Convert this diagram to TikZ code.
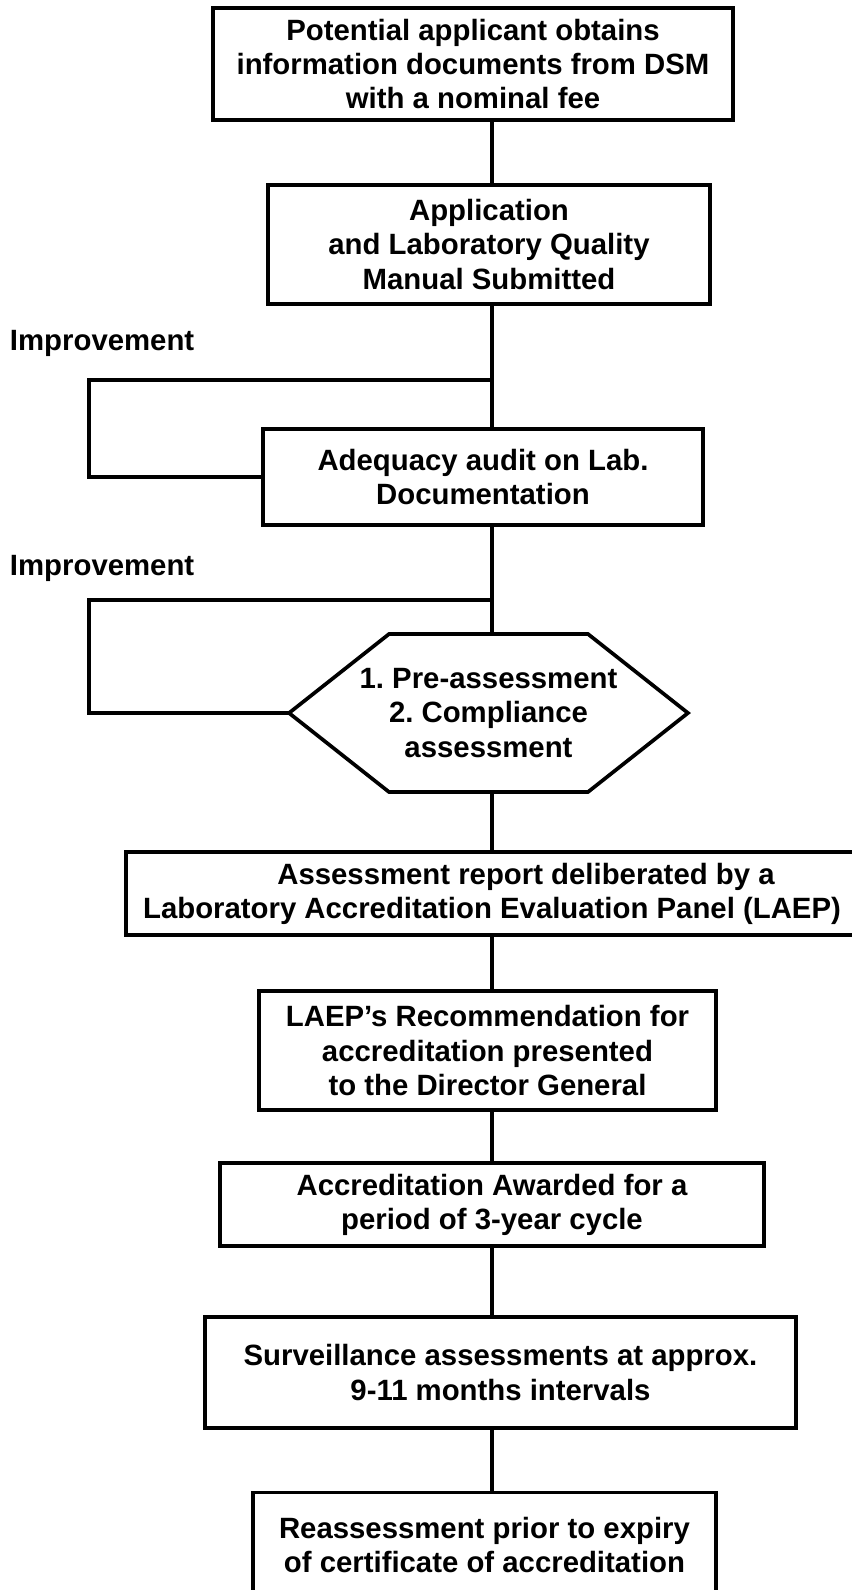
\documentclass[tikz,border=0pt]{standalone}
\usepackage{fontspec}
\setmainfont{Liberation Sans}
\frenchspacing

\begin{document}
\begin{tikzpicture}[x=0.02cm,y=-0.02cm,line width=2.1pt,
			every node/.style={font=\bfseries\fontsize{16.7}{19.4}\selectfont,align=center,inner sep=0,outer sep=0},
			stepbox/.style={draw,rectangle,line width=2.1pt}]
			\useasboundingbox (0,0) rectangle (852,1590);
			\coordinate (spine) at (492,0);
			% main chain of steps
			\node[stepbox,minimum width=10.4cm,minimum height=2.24cm] (info) at (473,64) {Potential applicant obtains\\information documents from DSM\\with a nominal fee};
			\node[stepbox,minimum width=8.84cm,minimum height=2.38cm] (appl) at (489,244.5) {Application\\and Laboratory Quality\\Manual Submitted};
			\node[stepbox,minimum width=8.8cm,minimum height=1.92cm] (audit) at (483,477) {Adequacy audit on Lab.\\Documentation};
			\node[minimum width=7.98cm,minimum height=3.16cm] (assess) at (488.5,713) {1. Pre-assessment\\2. Compliance\\assessment};
			\draw (assess.west) -- ([xshift=2cm]assess.north west) -- ([xshift=-2cm]assess.north east) -- (assess.east)
				-- ([xshift=-2cm]assess.south east) -- ([xshift=2cm]assess.south west) -- cycle;
			\node[stepbox,minimum width=14.64cm,minimum height=1.66cm] (report) at (492,893.5) {\hspace*{1.36cm}Assessment report deliberated by a\\Laboratory Accreditation Evaluation Panel (LAEP)};
			\node[stepbox,minimum width=9.14cm,minimum height=2.38cm] (recom) at (487.5,1050.5) {LAEP’s Recommendation for\\accreditation presented\\to the Director General};
			\node[stepbox,minimum width=10.88cm,minimum height=1.66cm] (award) at (492,1204.5) {Accreditation Awarded for a\\period of 3-year cycle};
			\node[stepbox,minimum width=11.82cm,minimum height=2.22cm] (surv) at (500.5,1372.5) {Surveillance assessments at approx.\\9-11 months intervals};
			\node[stepbox,minimum width=9.26cm,minimum height=2.1cm] (reass) at (484.5,1545) {Reassessment prior to expiry\\of certificate of accreditation};
			% feedback loops
			\node[anchor=west] (impa) at (10,343) {Improvement};
			\node[anchor=west] (impb) at (10,568) {Improvement};
			\coordinate (loopa) at (89,380);
			\coordinate (loopb) at (89,600);
			\draw (audit.west) -| (loopa) -- (loopa -| spine);
			\draw (assess.west) -| (loopb) -- (loopb -| spine);
			% connectors
			\draw (info.south -| spine) -- (appl.north -| spine);
			\draw (appl.south -| spine) -- (audit.north -| spine);
			\draw (audit.south -| spine) -- (assess.north -| spine);
			\draw (assess.south -| spine) -- (report.north -| spine);
			\draw (report.south -| spine) -- (recom.north -| spine);
			\draw (recom.south -| spine) -- (award.north -| spine);
			\draw (award.south -| spine) -- (surv.north -| spine);
			\draw (surv.south -| spine) -- (reass.north -| spine);
		\end{tikzpicture}
\end{document}
